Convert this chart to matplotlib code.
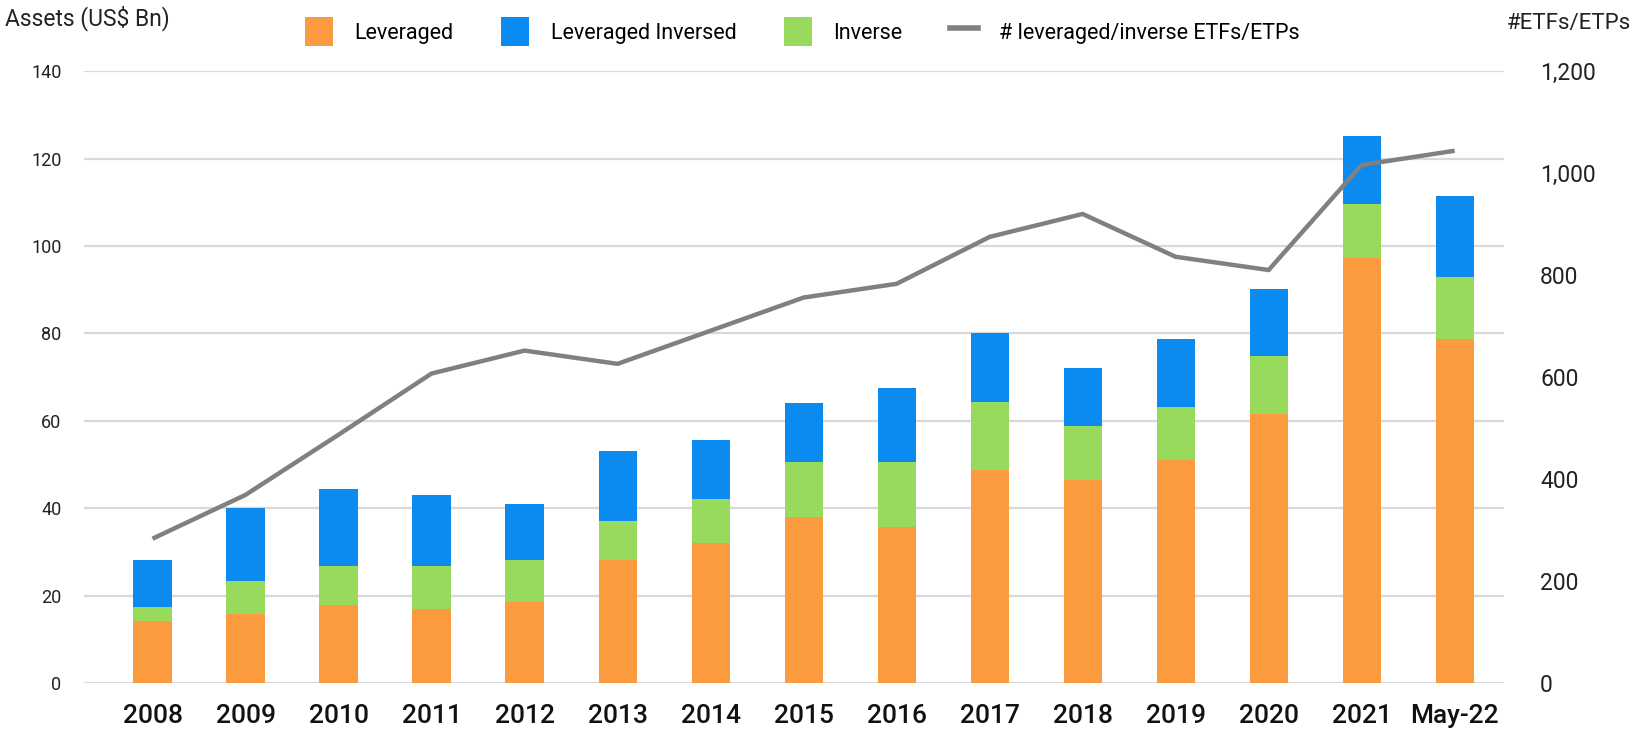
import numpy as np
import matplotlib
matplotlib.use("Agg")
import matplotlib.pyplot as plt
from matplotlib.patches import Patch
from matplotlib.lines import Line2D


# =========================
# DATA
# =========================
years = ["2008", "2009", "2010", "2011", "2012", "2013", "2014", "2015",
         "2016", "2017", "2018", "2019", "2020", "2021", "May-22"]

# stacked segments (US$ Bn)
leveraged = [14.2, 15.7, 17.8, 17.0, 18.6, 28.1, 32.0, 38.0,
             35.7, 48.7, 46.5, 51.0, 61.6, 97.3, 78.7]
inverse = [3.1, 7.6, 9.0, 9.8, 9.5, 9.0, 10.1, 12.5,
           14.8, 15.5, 12.4, 12.2, 13.2, 12.2, 14.3]
leveraged_inversed = [10.8, 16.7, 17.5, 16.2, 12.9, 15.9, 13.6, 13.6,
                      17.0, 15.8, 13.2, 15.5, 15.3, 15.6, 18.4]

# number of leveraged/inverse ETFs/ETPs
num_products = [283, 369, 487, 607, 652, 626, 691, 756,
                783, 875, 920, 836, 810, 1016, 1044]

ORANGE = "#FC9A3F"
BLUE = "#0B8AF0"
GREEN = "#98DB5C"
GREY = "#808080"

plt.rcParams["font.family"] = ["Roboto", "DejaVu Sans"]

# =========================
# FIGURE
# =========================
fig = plt.figure(figsize=(16.41, 7.34), dpi=100)
ax = fig.add_axes([0.051, 0.0695, 0.8655, 0.8335])

x = np.arange(len(years))
w = 0.41

lev = np.array(leveraged)
inv = np.array(inverse)
levinv = np.array(leveraged_inversed)

ax.bar(x, lev, width=w, color=ORANGE, zorder=2)
ax.bar(x, inv, width=w, bottom=lev, color=GREEN, zorder=2)
ax.bar(x, levinv, width=w, bottom=lev + inv, color=BLUE, zorder=2)

ax.set_ylim(0, 140)
ax.set_yticks(np.arange(0, 141, 20))
ax.set_xlim(-0.74, len(years) - 1 + 0.53)
ax.set_xticks(x)
ax.set_xticklabels(years, fontsize=19, fontweight="medium", color="#111111")
ax.tick_params(axis="x", length=0, pad=15)
ax.tick_params(axis="y", length=0, pad=16, labelsize=13, labelcolor="#222222")

ax.grid(axis="y", color="#D9D9D9", linewidth=1.6, zorder=0)
for s in ax.spines.values():
    s.set_visible(False)

# right axis for product count
ax2 = ax.twinx()
ax2.plot(x, num_products, color=GREY, linewidth=3.2, zorder=3,
         solid_capstyle="butt")
ax2.set_ylim(0, 1200)
ax2.set_yticks(np.arange(0, 1201, 200))
ax2.set_yticklabels([f"{v:,}" for v in range(0, 1201, 200)])
ax2.tick_params(axis="y", length=0, pad=26, labelsize=16.5, labelcolor="#222222")
for s in ax2.spines.values():
    s.set_visible(False)

# =========================
# TITLES / LEGEND
# =========================
fig.text(0.003, 0.975, "Assets (US$ Bn)", fontsize=16.5, va="center",
         ha="left", color="#222222")
fig.text(0.994, 0.968, "#ETFs/ETPs", fontsize=16, va="center",
         ha="right", color="#222222")

handles = [
    Patch(facecolor=ORANGE, edgecolor="none"),
    Patch(facecolor=BLUE, edgecolor="none"),
    Patch(facecolor=GREEN, edgecolor="none"),
    Line2D([0], [0], color=GREY, linewidth=4),
]
labels = ["Leveraged", "Leveraged Inversed", "Inverse",
          "# leveraged/inverse ETFs/ETPs"]
fig.legend(handles, labels, loc="center", bbox_to_anchor=(0.489, 0.957),
           ncol=4, frameon=False, fontsize=15.5, handlelength=1.3,
           handleheight=1.75, handletextpad=1.0, columnspacing=2.2)

fig.savefig("out.png", dpi=100)
plt.close(fig)
